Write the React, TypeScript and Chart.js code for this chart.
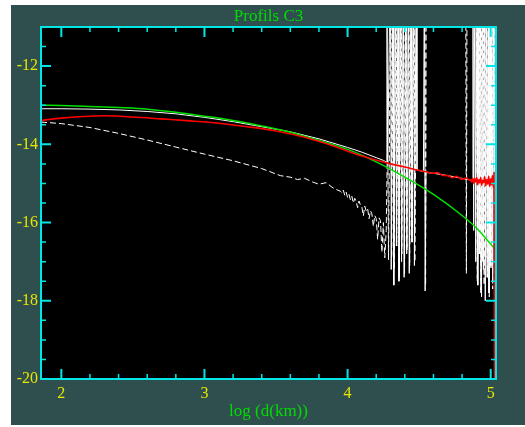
import React, { useEffect, useRef } from 'react';
import { Chart, registerables } from 'chart.js';

Chart.register(...registerables);

const TITLE = 'Profils C3';
const X_LABEL = 'log (d(km))';
const xTickValues = [2, 3, 4, 5];
const yTickValues = [-20, -18, -16, -14, -12];

const greenX = [1.858, 2.0, 2.2, 2.4, 2.6, 2.8, 3.0, 3.2, 3.4, 3.6, 3.8, 4.0, 4.2, 4.4, 4.6, 4.8, 4.9, 5.0, 5.03];
const greenY = [-13.0, -13.01, -13.03, -13.06, -13.1, -13.18, -13.28, -13.39, -13.53, -13.69, -13.9, -14.13, -14.45, -14.84, -15.28, -15.82, -16.14, -16.55, -16.68];

const redX = [1.858, 2.0, 2.15, 2.3, 2.5, 2.7, 2.9, 3.1, 3.3, 3.5, 3.7, 3.9, 4.1, 4.3, 4.4, 4.5, 4.55, 4.6, 4.63, 4.66, 4.7, 4.73, 4.76, 4.8, 4.83, 4.85,
  4.86, 4.867, 4.874, 4.881, 4.888, 4.895, 4.902, 4.909, 4.916, 4.923, 4.93, 4.937, 4.944, 4.951, 4.958, 4.965, 4.972, 4.979, 4.986, 4.993, 5.0, 5.006, 5.012, 5.018, 5.023, 5.027];
const redY = [-13.39, -13.33, -13.29, -13.27, -13.3, -13.35, -13.4, -13.46, -13.55, -13.66, -13.82, -14.04, -14.3, -14.5, -14.58, -14.67, -14.7, -14.74, -14.72, -14.79, -14.8, -14.85, -14.82, -14.89, -14.86, -14.91,
  -14.9, -14.97, -14.86, -15.0, -14.88, -14.96, -14.84, -15.03, -14.9, -14.99, -14.85, -15.05, -14.92, -14.98, -14.83, -15.06, -14.9, -15.02, -14.82, -15.08, -14.88, -15.04, -14.8, -15.1, -14.72, -20.6];

const whiteX = [1.858, 2.0, 2.2, 2.4, 2.6, 2.8, 3.0, 3.2, 3.4, 3.6, 3.8, 4.0, 4.1, 4.2, 4.25, 4.27,
  4.275, 4.28, 4.3, 4.305, 4.318, 4.323, 4.336, 4.341, 4.354, 4.359, 4.372, 4.377, 4.39, 4.395, 4.408, 4.413, 4.426, 4.431, 4.444, 4.449, 4.462, 4.467, 4.48, 4.485,
  4.5, 4.53, 4.537, 4.542, 4.548, 4.6, 4.7, 4.8, 4.87, 4.876, 4.881, 4.89, 4.895, 4.905, 4.91, 4.918, 4.923, 4.931, 4.936, 4.944, 4.949, 4.957, 4.962, 4.97, 4.975,
  4.983, 4.988, 4.996, 5.001, 5.009, 5.014, 5.022, 5.027, 5.032];
const whiteY = [-13.09, -13.09, -13.1, -13.12, -13.16, -13.22, -13.31, -13.42, -13.55, -13.68, -13.86, -14.08, -14.2, -14.34, -14.41, -14.45,
  -9.0, -14.46, -9.0, -17.2, -9.0, -17.6, -9.0, -16.6, -9.0, -17.5, -9.0, -17.0, -9.0, -17.4, -9.0, -16.8, -9.0, -17.3, -9.0, -16.5, -9.0, -17.1, -9.0, -14.64,
  -14.67, -14.7, -9.0, -17.75, -14.72, -14.74, -14.8, -14.87, -14.92, -9.0, -16.2, -9.0, -17.0, -9.0, -17.6, -9.0, -16.8, -9.0, -17.9, -9.0, -17.2, -9.0, -18.0, -9.0, -17.4,
  -9.0, -17.8, -9.0, -17.1, -9.0, -17.5, -9.0, -16.9, -9.0];

const dashX = [1.858, 2.0, 2.2, 2.4, 2.6, 2.8, 3.0, 3.2, 3.4, 3.53, 3.6, 3.65, 3.7, 3.76, 3.8, 3.85, 3.9, 3.95,
  3.96, 3.97, 3.98, 3.99, 4.0, 4.01, 4.02, 4.03, 4.04, 4.05, 4.06, 4.07, 4.08, 4.09, 4.1, 4.11, 4.12, 4.13, 4.14, 4.15, 4.16, 4.17, 4.18, 4.19, 4.2, 4.21, 4.22, 4.23, 4.24, 4.25, 4.26, 4.27,
  4.28, 4.286, 4.303, 4.308, 4.321, 4.326, 4.339, 4.344, 4.357, 4.362, 4.375, 4.38, 4.393, 4.398, 4.411, 4.416, 4.429, 4.434, 4.447, 4.452, 4.465, 4.47, 4.485,
  4.54, 4.545, 4.55, 4.825, 4.83, 4.835, 4.9, 4.906, 4.912, 4.918, 4.924, 4.93, 4.936, 4.942, 4.948, 4.954, 4.96, 4.966, 4.972, 4.978, 4.984, 4.99, 4.996, 5.002, 5.008, 5.014, 5.02, 5.026, 5.032];
const dashY = [-13.43, -13.47, -13.57, -13.72, -13.89, -14.07, -14.25, -14.42, -14.62, -14.8, -14.84, -14.9, -14.87, -14.97, -15.02, -14.98, -15.12, -15.2,
  -15.24, -15.17, -15.3, -15.22, -15.36, -15.28, -15.42, -15.33, -15.5, -15.38, -15.46, -15.62, -15.45, -15.55, -15.6, -15.83, -15.58, -15.7, -15.64, -15.9, -15.7, -15.78, -16.1, -15.82, -15.9, -16.43, -15.88, -15.95, -16.76, -16.0, -16.9, -16.2,
  -13.6, -16.95, -9.0, -16.9, -9.0, -17.2, -9.0, -16.6, -9.0, -17.4, -9.0, -16.8, -9.0, -17.3, -9.0, -16.7, -9.0, -17.1, -9.0, -16.5, -9.0, -17.0, -9.0,
  -9.0, -17.6, -9.0, -9.0, -17.3, -9.0, -9.0, -17.5, -9.0, -16.8, -9.0, -17.8, -9.0, -17.0, -9.0, -17.6, -9.0, -16.9, -9.0, -17.4, -9.0, -17.9, -9.0, -17.2, -9.0, -17.7, -9.0, -17.0, -9.0];

const SLATE = '#2f4f4f';
const CYAN = '#00e6e6';
const YELLOW = '#e6e600';
const GREEN_TXT = '#00dc00';
const FONT = '"Liberation Serif", "DejaVu Serif", serif';

const pts = (xs: number[], ys: number[]) => xs.map((x, i) => ({ x, y: ys[i] }));

const framePlugin = {
  id: 'idlFrame',
  beforeDraw(chart: any) {
    const { ctx, width, height, chartArea: a } = chart;
    ctx.save();
    ctx.fillStyle = '#ffffff';
    ctx.fillRect(0, 0, width, height);
    ctx.fillStyle = SLATE;
    ctx.fillRect(11, 5, width - 11, 420);
    ctx.fillStyle = '#000000';
    ctx.fillRect(a.left, a.top, a.right - a.left, a.bottom - a.top);
    ctx.restore();
  },
  afterDraw(chart: any) {
    const { ctx, chartArea: a, scales } = chart;
    const xs = scales.x;
    const ys = scales.y;
    ctx.save();
    ctx.strokeStyle = CYAN;
    for (let i = 0; i <= 15; i++) {
      const v = 2 + i * 0.2;
      const p = xs.getPixelForValue(v);
      const major = i % 5 === 0;
      const len = major ? 10 : 5;
      ctx.lineWidth = major ? 2 : 1.5;
      ctx.beginPath();
      ctx.moveTo(p, a.bottom);
      ctx.lineTo(p, a.bottom - len);
      ctx.moveTo(p, a.top);
      ctx.lineTo(p, a.top + len);
      ctx.stroke();
    }
    for (let i = 0; i <= 18; i++) {
      const v = -20 + i * 0.5;
      const p = ys.getPixelForValue(v);
      const major = i % 4 === 0;
      const len = major ? 10 : 5;
      ctx.lineWidth = major ? 2 : 1.5;
      ctx.beginPath();
      ctx.moveTo(a.left, p);
      ctx.lineTo(a.left + len, p);
      ctx.moveTo(a.right, p);
      ctx.lineTo(a.right - len, p);
      ctx.stroke();
    }
    ctx.lineWidth = 2;
    ctx.strokeRect(a.left, a.top, a.right - a.left, a.bottom - a.top);
    ctx.fillStyle = GREEN_TXT;
    ctx.font = '17px ' + FONT;
    ctx.textAlign = 'center';
    ctx.textBaseline = 'middle';
    ctx.fillText(TITLE, (a.left + a.right) / 2, 16.5);
    ctx.restore();
  },
};

export default function App() {
  const ref = useRef<HTMLCanvasElement | null>(null);
  useEffect(() => {
    if (!ref.current) return;
    const chart = new Chart(ref.current, {
      type: 'line',
      data: {
        datasets: [
          { label: 'red', data: pts(redX, redY), borderColor: '#ff0000', borderWidth: 1.6, pointRadius: 0, cubicInterpolationMode: 'monotone', clip: 0 },
          { label: 'green', data: pts(greenX, greenY), borderColor: '#00e000', borderWidth: 1.5, pointRadius: 0, cubicInterpolationMode: 'monotone', clip: 0 },
          { label: 'white', data: pts(whiteX, whiteY), borderColor: '#ffffff', borderWidth: 1, pointRadius: 0, tension: 0, clip: 0 },
          { label: 'dashed', data: pts(dashX, dashY), borderColor: '#ffffff', borderWidth: 1, borderDash: [6, 3], pointRadius: 0, tension: 0, clip: 0 },
        ],
      },
      options: {
        animation: false,
        responsive: false,
        events: [],
        layout: { padding: { left: 11, right: 29, top: 27, bottom: 0 } },
        plugins: { legend: { display: false }, tooltip: { enabled: false }, title: { display: false } },
        scales: {
          x: {
            type: 'linear',
            min: 1.858,
            max: 5.037,
            grid: { display: false, drawTicks: false },
            border: { display: false },
            afterBuildTicks: (s: any) => { s.ticks = xTickValues.map((v) => ({ value: v })); },
            afterFit: (s: any) => { s.height = 48; },
            ticks: { color: YELLOW, font: { family: FONT, size: 16 }, padding: 5, maxRotation: 0, autoSkip: false },
            title: { display: true, text: X_LABEL, color: GREEN_TXT, font: { family: FONT, size: 17 }, padding: { top: 0, bottom: 5 } },
          },
          y: {
            type: 'linear',
            min: -20,
            max: -11,
            grid: { display: false, drawTicks: false },
            border: { display: false },
            afterBuildTicks: (s: any) => { s.ticks = yTickValues.map((v) => ({ value: v })); },
            afterFit: (s: any) => { s.width = 30; },
            ticks: { color: YELLOW, font: { family: FONT, size: 16 }, padding: 3, autoSkip: false },
          },
        },
      },
      plugins: [framePlugin],
    });
    return () => chart.destroy();
  }, []);
  return (
    <div style={{ position: 'fixed', left: 0, top: 0, width: 525, height: 427 }}>
      <canvas ref={ref} width={525} height={427} style={{ width: 525, height: 427, display: 'block' }} />
    </div>
  );
}
